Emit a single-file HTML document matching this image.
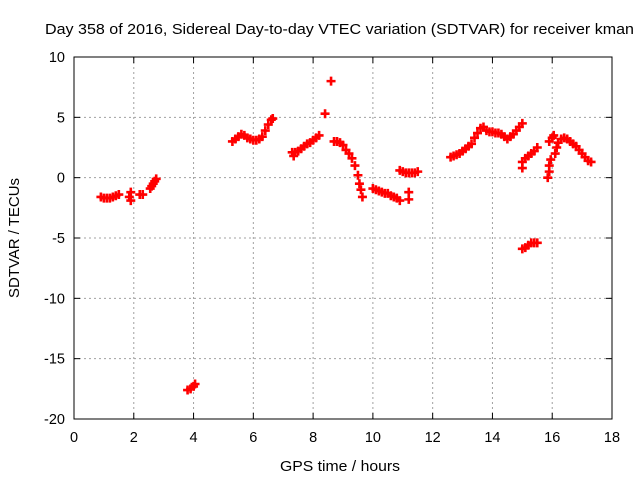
<!DOCTYPE html>
<html><head><meta charset="utf-8"><style>
body{margin:0;background:#fff}
svg{display:block;font-family:"Liberation Sans",sans-serif}
</style></head><body>
<svg id="chart" width="640" height="480" viewBox="0 0 640 480">
<text x="45" y="34" font-size="15" textLength="589" lengthAdjust="spacingAndGlyphs" fill="#000">Day 358 of 2016, Sidereal Day-to-day VTEC variation (SDTVAR) for receiver kman</text>
<g id="grid"></g>
<g id="axes"></g>
<g id="marks"></g>
<text x="340" y="471" font-size="15" text-anchor="middle" textLength="120" lengthAdjust="spacingAndGlyphs">GPS time / hours</text>
<text transform="translate(19,238) rotate(-90)" font-size="15" text-anchor="middle" textLength="120" lengthAdjust="spacingAndGlyphs">SDTVAR / TECUs</text>
</svg>
<script>
const xTicks=[0,2,4,6,8,10,12,14,16,18];
const yTicks=[10,5,0,-5,-10,-15,-20];
const hours=[0.9,1.0,1.1,1.2,1.3,1.4,1.5,1.85,1.9,1.9,2.2,2.3,2.55,2.6,2.65,2.7,2.75,
3.8,3.9,4.0,4.05,
5.3,5.4,5.5,5.6,5.7,5.8,5.9,6.0,6.1,6.2,6.3,6.4,6.5,6.6,6.65,
7.3,7.35,7.4,7.5,7.6,7.7,7.8,7.9,8.0,8.1,8.2,8.4,8.6,
8.7,8.8,8.9,9.0,9.1,9.2,9.3,9.4,9.5,9.55,9.6,9.65,
10.0,10.1,10.2,10.3,10.4,10.5,10.6,10.7,10.8,10.9,
10.9,11.0,11.1,11.2,11.3,11.4,11.5,11.2,11.2,
12.6,12.7,12.8,12.9,13.0,13.1,13.2,13.3,13.4,13.5,13.6,13.7,13.8,13.9,14.0,14.1,14.2,14.3,14.4,14.5,14.6,14.7,14.8,14.9,15.0,
15.0,15.0,15.1,15.2,15.3,15.4,15.5,
15.0,15.1,15.2,15.3,15.4,15.5,
15.85,15.9,15.9,15.95,15.9,16.0,16.05,
16.1,16.15,16.2,16.3,16.4,16.5,16.6,16.7,16.8,16.9,17.0,17.1,17.2,17.3];
const values=[-1.6,-1.7,-1.7,-1.7,-1.6,-1.5,-1.4,-1.6,-1.2,-1.9,-1.4,-1.4,-0.9,-0.7,-0.5,-0.3,-0.1,
-17.6,-17.5,-17.3,-17.1,
3.0,3.2,3.4,3.6,3.5,3.3,3.2,3.1,3.1,3.2,3.4,3.9,4.4,4.8,4.9,
2.1,1.8,2.1,2.2,2.4,2.6,2.8,2.9,3.1,3.3,3.5,5.3,8.0,
3.0,3.0,2.9,2.7,2.3,2.0,1.6,1.0,0.2,-0.5,-1.0,-1.6,
-0.9,-1.0,-1.1,-1.2,-1.3,-1.3,-1.5,-1.6,-1.7,-1.9,
0.6,0.5,0.4,0.4,0.4,0.4,0.5,-1.2,-1.8,
1.7,1.8,1.9,2.0,2.2,2.4,2.6,2.8,3.3,3.7,4.1,4.2,3.9,3.8,3.8,3.7,3.7,3.6,3.4,3.2,3.4,3.6,3.9,4.2,4.5,
1.3,0.8,1.6,1.8,2.0,2.2,2.5,
-5.9,-5.8,-5.6,-5.4,-5.4,-5.4,
0.0,0.5,1.0,1.5,3.0,3.3,3.5,
2.0,2.5,2.9,3.2,3.3,3.2,3.0,2.8,2.6,2.3,2.0,1.7,1.4,1.3];
const X0=74,X1=612,Y0=419,Y1=57;
const xs=v=>X0+(v-0)/(18-0)*(X1-X0);
const ys=v=>Y0-(v+20)/(30)*(Y0-Y1);
const NS="http://www.w3.org/2000/svg";
const grid=document.getElementById('grid'),axes=document.getElementById('axes'),marks=document.getElementById('marks');
function mk(tag,at,parent){const e=document.createElementNS(NS,tag);for(const k in at)e.setAttribute(k,at[k]);parent.appendChild(e);return e;}
xTicks.forEach(t=>{const x=xs(t);
 if(t>0&&t<18){const g=mk('line',{x1:x,x2:x,y1:Y1,y2:Y0,stroke:'#a0a0a0','stroke-dasharray':'2,3'},grid);
 
 }
 mk('line',{x1:x,x2:x,y1:Y0,y2:Y0-6,stroke:'#000'},axes);mk('line',{x1:x,x2:x,y1:Y1,y2:Y1+6,stroke:'#000'},axes);
 const l=mk('text',{x:x,y:442,'font-size':14.5,'text-anchor':'middle'},axes);l.textContent=t;
 
 });
yTicks.forEach(t=>{const y=ys(t);
 if(t<10&&t>-20){const g=mk('line',{x1:X0,x2:X1,y1:y,y2:y,stroke:'#a0a0a0','stroke-dasharray':'2,3'},grid);
 
 }
 mk('line',{x1:X0,x2:X0+6,y1:y,y2:y,stroke:'#000'},axes);mk('line',{x1:X1,x2:X1-6,y1:y,y2:y,stroke:'#000'},axes);
 const l=mk('text',{x:X0-9,y:y+5,'font-size':14.5,'text-anchor':'end'},axes);l.textContent=t;
 
 });
const fr=mk('rect',{x:X0,y:Y1,width:X1-X0,height:Y0-Y1,fill:'none',stroke:'#000'},axes);


hours.forEach((h,i)=>{const x=xs(h),y=ys(values[i]);
 const p=mk('path',{d:`M${x-4.5},${y}H${x+4.5}M${x},${y-4.5}V${y+4.5}`,stroke:'#f00','stroke-width':2.6,fill:'none'},marks);
 
 });
</script>
</body></html>
